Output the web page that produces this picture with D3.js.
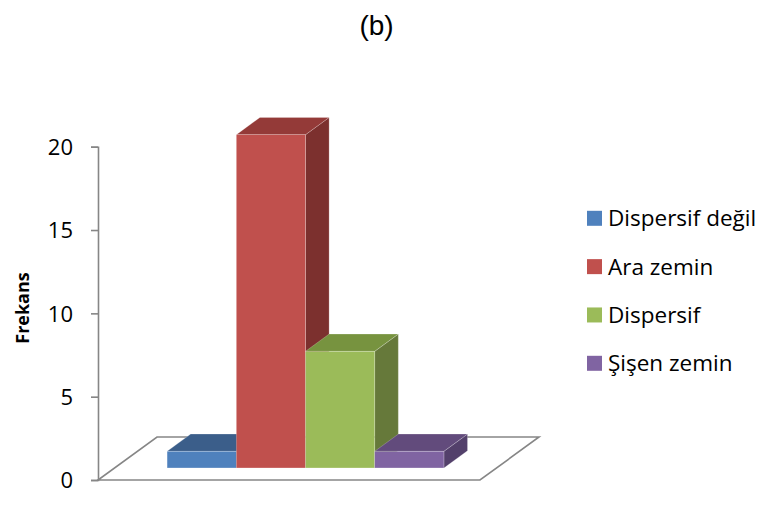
<!DOCTYPE html>
<html>
<head>
<meta charset="utf-8">
<script src="https://cdn.jsdelivr.net/npm/d3@7"></script>
<style>
  html, body { margin: 0; padding: 0; background: #fff; }
  svg { display: block; }
  .tick text { font-family: "Open Sans", sans-serif; }
</style>
</head>
<body>
<svg id="chart" width="763" height="507"></svg>
<script>
// Frequency of soil classes (one category, four series)
const seriesNames = ["Dispersif değil", "Ara zemin", "Dispersif", "Şişen zemin"];
const seriesValues = [1, 20, 7, 1];
const tickValues = [0, 5, 10, 15, 20];
const frontColors = ["#4F81BD", "#C0504D", "#9BBB59", "#8064A2"];
const topColors   = ["#3B5E8A", "#943A38", "#77933F", "#624B7C"];
const sideColors  = ["#324F75", "#7C302E", "#66793A", "#53406B"];

const svg = d3.select("#chart");

// Plot geometry: front plane of the floor, plus an oblique depth vector
const left = 98, right = 480, base = 480, topY = 146.7;
const depth = { x: 59, y: -43 };
const frontT = 0.28, backT = 0.68;   // bar front/back as fractions of depth

const y = d3.scaleLinear().domain([0, 20]).range([base, topY]);
const x = d3.scaleBand().domain(seriesNames).range([left, right])
  .paddingInner(0).paddingOuter(0.76);

// Title
svg.append("text")
  .attr("x", 376.5).attr("y", 34.5)
  .attr("text-anchor", "middle")
  .attr("font-family", "Liberation Sans, Arial, sans-serif")
  .attr("font-size", 28)
  .attr("fill", "#000")
  .text("(b)");

// Floor outline
const floorPts = [
  [left, base], [right, base],
  [right + depth.x, base + depth.y], [left + depth.x, base + depth.y]
];
svg.append("path")
  .attr("d", d3.line()(floorPts) + "Z")
  .attr("fill", "#fff")
  .attr("stroke", "#868686")
  .attr("stroke-width", 1.6);

// Value axis on the front-left edge
const axis = d3.axisLeft(y).tickValues(tickValues).tickSize(7).tickPadding(18);
const gAxis = svg.append("g").attr("transform", `translate(${left},0)`).call(axis);
gAxis.select(".domain").attr("stroke", "#868686").attr("stroke-width", 1.6);
gAxis.selectAll(".tick line").attr("stroke", "#868686").attr("stroke-width", 1.6);
gAxis.selectAll(".tick text")
  .attr("font-size", 22)
  .attr("fill", "#000")
  .attr("dy", "0.36em");

// Axis title
svg.append("text")
  .attr("transform", "translate(29,308) rotate(-90)")
  .attr("text-anchor", "middle")
  .attr("font-family", "Open Sans, sans-serif")
  .attr("font-weight", "bold")
  .attr("font-size", 18)
  .attr("fill", "#000")
  .text("Frekans");

// 3D bars drawn left to right so each bar covers its neighbour's side face
const fx = depth.x * frontT, fy = depth.y * frontT;
const dx = depth.x * (backT - frontT), dy = depth.y * (backT - frontT);
const bars = svg.append("g");
seriesNames.forEach((name, i) => {
  const x0 = x(name) + fx, x1 = x0 + x.bandwidth();
  const yb = y(0) + fy, yt = y(seriesValues[i]) + fy;
  const g = bars.append("g");
  const edge = "rgba(255,255,255,0.35)";
  // right side
  g.append("path")
    .attr("d", d3.line()([[x1, yt], [x1 + dx, yt + dy], [x1 + dx, yb + dy], [x1, yb]]) + "Z")
    .attr("fill", sideColors[i]).attr("stroke", edge).attr("stroke-width", 0.6);
  // top
  g.append("path")
    .attr("d", d3.line()([[x0, yt], [x0 + dx, yt + dy], [x1 + dx, yt + dy], [x1, yt]]) + "Z")
    .attr("fill", topColors[i]).attr("stroke", edge).attr("stroke-width", 0.6);
  // front
  g.append("rect")
    .attr("x", x0).attr("y", yt)
    .attr("width", x1 - x0).attr("height", yb - yt)
    .attr("fill", frontColors[i]).attr("stroke", edge).attr("stroke-width", 0.6);
});

// Legend
const legend = svg.append("g").attr("transform", "translate(587,0)");
const legendY = d3.scalePoint().domain(seriesNames).range([218.3, 363.3]);
seriesNames.forEach((name, i) => {
  const cy = legendY(name);
  legend.append("rect")
    .attr("x", 0).attr("y", cy - 7.5)
    .attr("width", 15).attr("height", 15)
    .attr("fill", frontColors[i]);
  legend.append("text")
    .attr("x", 21).attr("y", cy)
    .attr("dy", "0.36em")
    .attr("font-family", "Open Sans, sans-serif")
    .attr("font-size", 22.5)
    .attr("fill", "#000")
    .text(name);
});
</script>
</body>
</html>
